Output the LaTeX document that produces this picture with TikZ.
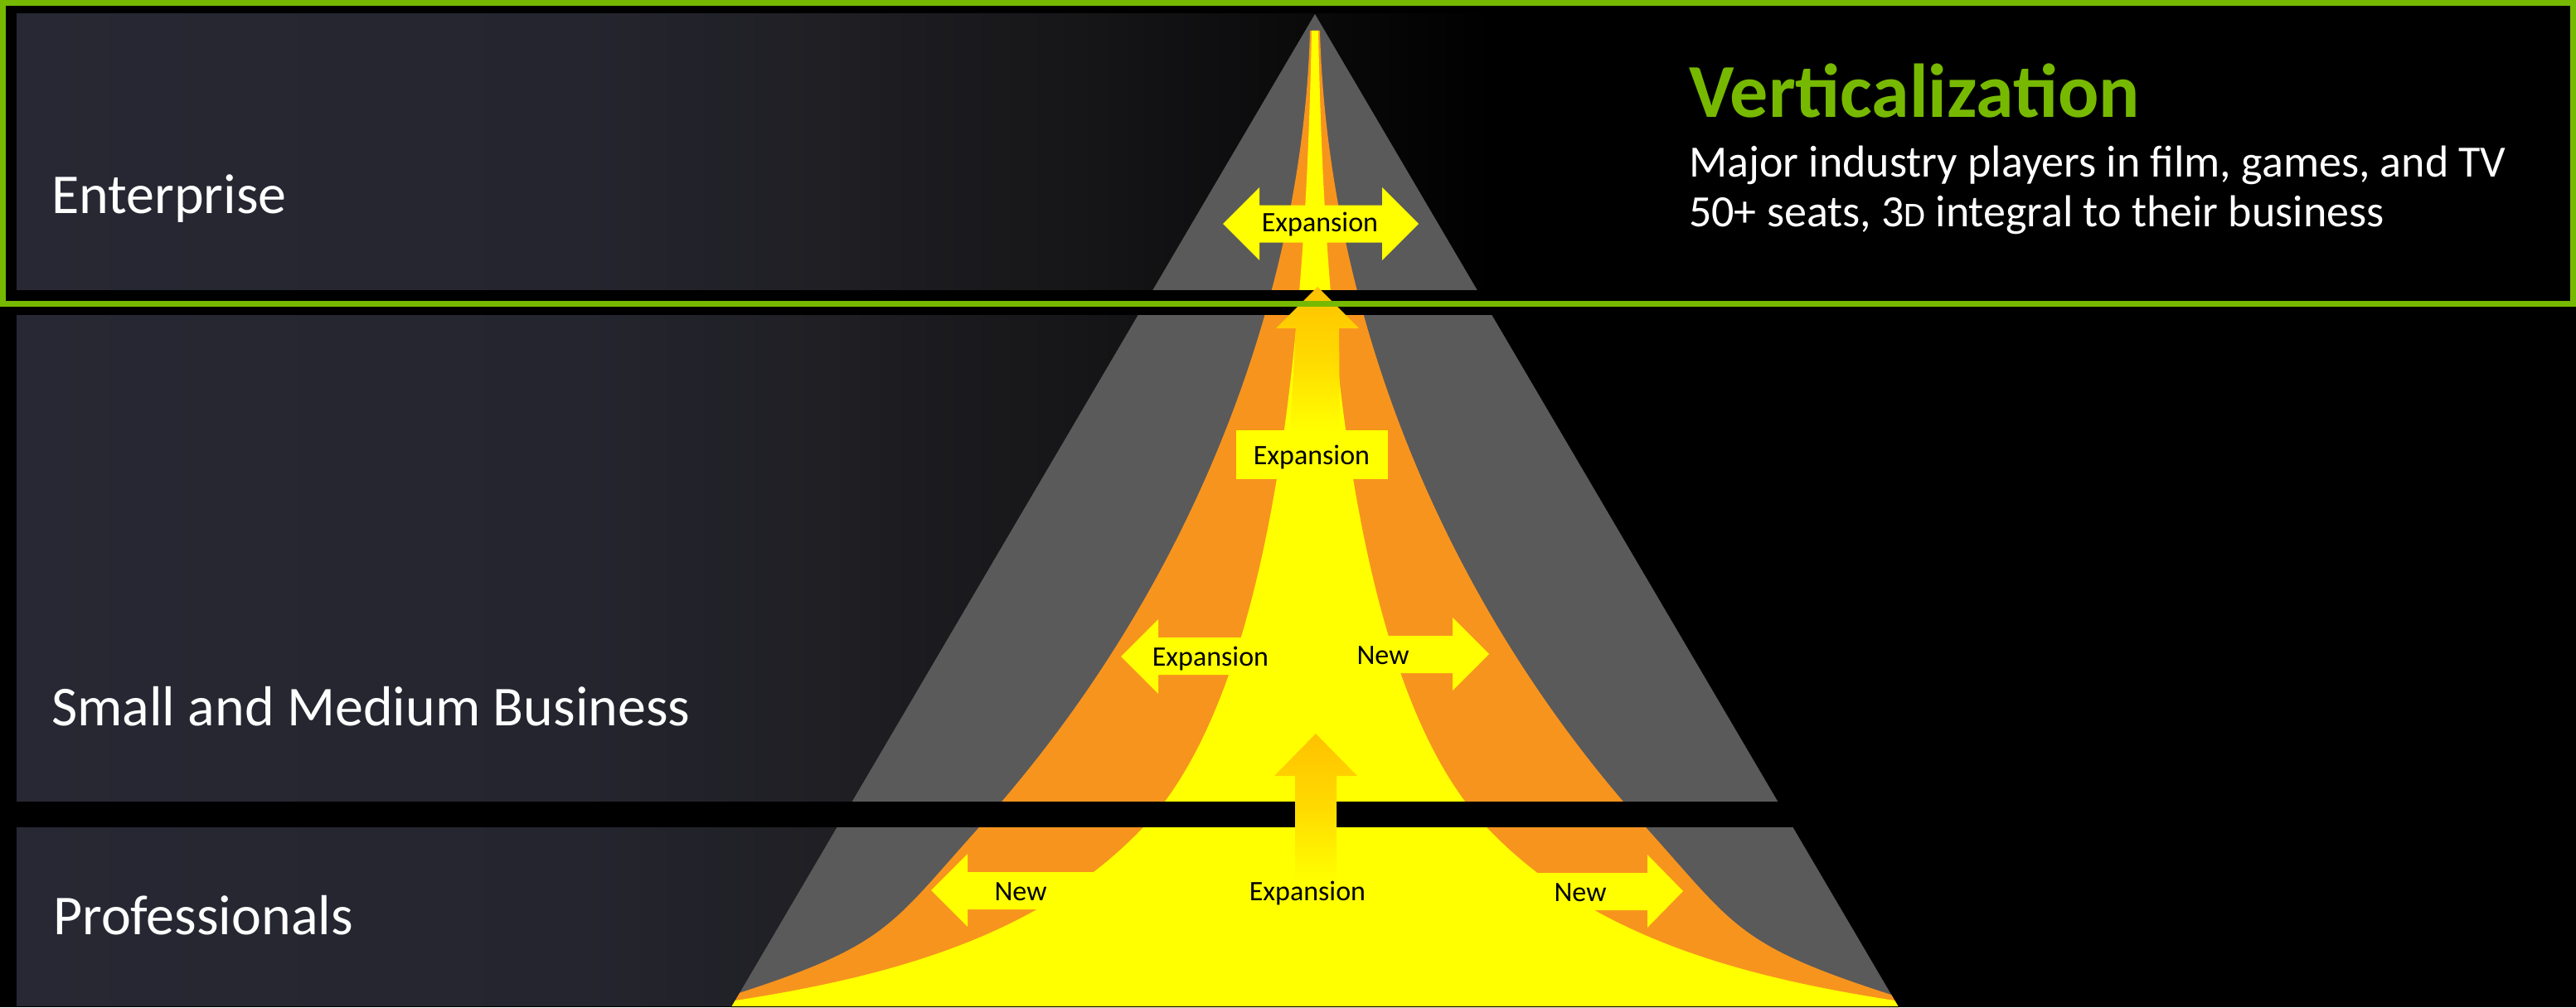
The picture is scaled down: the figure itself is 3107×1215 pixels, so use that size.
\documentclass[tikz,border=0pt]{standalone}
\usepackage{fontspec}
\setmainfont{Carlito}
\newfontfamily\descfont{Carlito}

\definecolor{nvgreen}{HTML}{76B900}
\definecolor{pyrgray}{HTML}{5A5A5A}
\definecolor{pyrorange}{HTML}{F7941E}
\definecolor{pyryellow}{HTML}{FFFF00}
\definecolor{arrowtop}{HTML}{FFC200}
\definecolor{arrowmid}{HTML}{FFDA00}
\definecolor{bandA}{HTML}{272833}
\definecolor{bandB}{HTML}{24252E}
\definecolor{bandC}{HTML}{1F1F24}
\definecolor{bandD}{HTML}{161618}

% dark tier band, fading to black towards the pyramid
\pgfdeclarehorizontalshading{bandfade}{100bp}{color(0bp)=(bandA); color(25bp)=(bandA);
  color(44bp)=(bandB); color(52.5bp)=(bandC); color(61bp)=(bandD); color(75bp)=(black); color(100bp)=(black)}

\tikzset{
  band/.style={shading=bandfade},
  tier/.style={anchor=base west, inner sep=0pt, text=white, font=\fontsize{68}{80}\selectfont},
  tag/.style={anchor=base, inner sep=0pt, text=black, font=\fontsize{34}{40}\selectfont},
  desc/.style={anchor=base west, inner sep=0pt, text=white, font=\descfont\fontsize{54}{64}\selectfont},
  flat/.style={fill=pyryellow},
  riser/.style={top color=arrowtop, bottom color=pyryellow, middle color=arrowmid},
}

\begin{document}
\begin{tikzpicture}[x=1pt,y=-1pt]
\useasboundingbox (0,0) rectangle (3107,1215);
\fill[black] (0,0) rectangle (3107,1215);

% tier bands
\shade[band] (20,17) rectangle (1800,350);
\shade[band] (20,380) rectangle (1800,967);
\shade[band] (20,998) rectangle (1800,1214);

% pyramid
\coordinate (apex) at (1586,17);
\coordinate (baseL) at (882,1215);
\coordinate (baseR) at (2290,1215);
\fill[pyrgray] (apex) -- (baseR) -- (baseL) -- cycle;

\begin{scope}
  \clip (apex) -- (baseR) -- (baseL) -- cycle;
  % orange growth funnel
  \fill[pyrorange] (1580,37) .. controls (1572,337) and (1451,698) .. (1181,998)
    .. controls (1073,1118) and (1071,1140) .. (885,1200) -- (860,1206) -- (860,1216)
    -- (2310,1216) -- (2310,1206) -- (2281,1200)
    .. controls (2095,1140) and (2093,1118) .. (1985,998)
    .. controls (1715,698) and (1600,337) .. (1592,37) -- cycle;
  % yellow core
  \fill[pyryellow] (1582,37) .. controls (1576,337) and (1550,818) .. (1379,998)
    .. controls (1255.5,1128) and (1078,1178) .. (880,1208) -- (860,1211) -- (860,1216)
    -- (2310,1216) -- (2310,1211) -- (2292,1208)
    .. controls (2094,1178) and (1916.5,1128) .. (1793,998)
    .. controls (1622,818) and (1596,337) .. (1590,37) -- cycle;
\end{scope}

% gaps between tiers
\fill[black] (0,350) rectangle (3107,380);
\fill[black] (0,967) rectangle (3107,998);
\fill[black] (0,1214) rectangle (3107,1215);

% upward arrows
\shade[riser] (1589,346) -- (1639,396) -- (1615,396) -- (1616,519) -- (1556,519) -- (1563,396)
  -- (1539,396) -- cycle;
\fill[flat] (1491,519) rectangle (1674,578);
\shade[riser] (1587,885) -- (1637,936) -- (1612,936) -- (1612,1062) -- (1562,1062) -- (1562,936)
  -- (1537,936) -- cycle;

% frame of the top tier
\draw[nvgreen, line width=7pt] (3.5,4) rectangle (3103.5,366.5);

% sideways arrows
\fill[flat] (1475,270) -- (1519,226) -- (1519,247.5) -- (1667,247.5) -- (1667,226) -- (1711,270)
  -- (1667,314) -- (1667,292.5) -- (1519,292.5) -- (1519,314) -- cycle;
\fill[flat] (1352,792) -- (1397,747) -- (1397,769) -- (1580,769) -- (1580,814) -- (1397,814)
  -- (1397,837) -- cycle;
\fill[flat] (1796,789) -- (1752,745) -- (1752,767) -- (1590,767) -- (1590,812) -- (1752,812)
  -- (1752,833) -- cycle;
\fill[flat] (1123,1074) -- (1167,1030) -- (1167,1052) -- (1450,1052) -- (1450,1097) -- (1167,1097)
  -- (1167,1118) -- cycle;
\fill[flat] (2030,1075) -- (1987,1031) -- (1987,1053) -- (1720,1053) -- (1720,1098) -- (1987,1098)
  -- (1987,1119) -- cycle;

% arrow labels
\node[tag] (entExp) at (1592,279) {Expansion};
\node[tag] (smbUp) at (1582,560) {Expansion};
\node[tag] (smbExp) at (1460,803) {Expansion};
\node[tag] (smbNew) at (1668,801) {New};
\node[tag] (proNewL) at (1231,1086) {New};
\node[tag] (proExp) at (1577,1086) {Expansion};
\node[tag] (proNewR) at (1906,1087) {New};

% tier names
\node[tier] (ent) at (62,257) {Enterprise};
\node[tier] (smb) at (62,875) {Small and Medium Business};
\node[tier] (pro) at (64,1127) {Professionals};

% top tier description
\node[anchor=base west, inner sep=0pt, text=nvgreen, font=\bfseries\fontsize{92}{100}\selectfont]
  (vert) at (2037,141) {Verticalization};
\node[desc] (d1) at (2037,213) {Major industry players in film, games, and TV};
\node[desc] (d2) at (2037,273) {50+ seats, 3{\fontsize{42}{50}\selectfont D} integral to their business};
\end{tikzpicture}
\end{document}
